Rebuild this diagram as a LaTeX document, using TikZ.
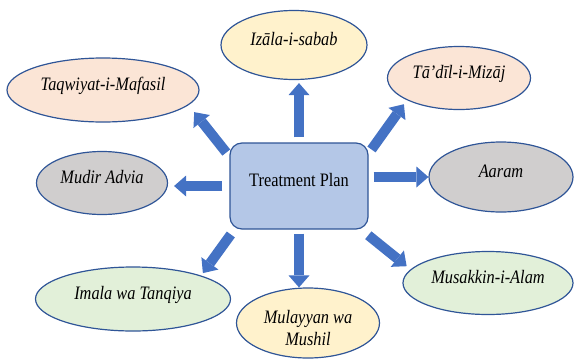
\documentclass[tikz,border=0pt]{standalone}
\usepackage{fontspec}
\setmainfont{Liberation Serif}[FakeStretch=0.86]
\usepackage{tikz}
\usetikzlibrary{positioning}
\usetikzlibrary{arrows.meta,shapes}
\usetikzlibrary{calc}
\definecolor{arrowblue}{HTML}{4472C4}
\definecolor{lineblue}{HTML}{2F5597}
\definecolor{planfill}{HTML}{B4C7E7}
\definecolor{peach}{HTML}{FBE5D6}
\definecolor{cream}{HTML}{FFF2CC}
\definecolor{greyfill}{HTML}{D0CECE}
\definecolor{mint}{HTML}{E2F0D9}
\tikzstyle{plan}=[rectangle,rounded corners=12pt,draw=lineblue,line width=1.2pt,fill=planfill,minimum width=138pt,minimum height=86pt,inner sep=0pt,font=\fontsize{19}{22}\selectfont,text height=13pt,text depth=12pt]
\tikzstyle{topic}=[ellipse,draw=lineblue,line width=1.2pt,inner sep=0pt,font=\fontsize{19}{22}\selectfont\itshape,text height=13pt,text depth=12pt]
\tikzstyle{bigarrow}=[draw=arrowblue,line width=10pt,-{Triangle[width=21pt,length=12pt,line width=0pt]}]

\begin{document}
\begin{tikzpicture}[x=1pt,y=-1pt]
    \useasboundingbox (0,0) rectangle (574,362);

    % First the central box
    \node[plan] (plan) at (299,186) {Treatment Plan};

    % Then the ellipses round it
    \foreach \pos/\name/\ew/\eh/\col/\label in {{(294,45)/izala/146/69/cream/Izāla-i-sabab}, {(103,90)/taqwiyat/192/64/peach/Taqwiyat-i-Mafasil}, {(459,78)/tadil/143/63/peach/Tā'dīl-i-Mizāj}, {(102,183)/mudir/131/63/greyfill/Mudir Advia}, {(501,177)/aaram/144/70/greyfill/Aaram}, {(133,299)/imala/195/64/mint/Imala wa Tanqiya}, {(488,283)/musakkin/170/63/mint/Musakkin-i-Alam}}
        \node[topic, fill=\col, minimum width=\ew pt, minimum height=\eh pt] (\name) at \pos {\label};

    \node[topic, fill=cream, minimum width=143pt, minimum height=70pt, align=center, text height=44pt, text depth=0pt] (mulayyan) at (308,323) {Mulayyan wa\\Mushil};

    % Connect the box with the ellipses
    \foreach \source/\dest/\sa/\sb in {plan.north/plan.north |- izala.south/5/3, plan.south/plan.south |- mulayyan.north/4/0, plan.west/plan.west -| mudir.east/7/6, plan.east |- aaram.west/aaram.west/5/0, plan.157/taqwiyat.-10/5/9, plan.25/tadil.203/5/5, plan.214/imala.19/6/3, plan.-35/musakkin.170/9/5}
        \path[bigarrow, shorten <=\sa pt, shorten >=\sb pt] (\source) -- (\dest);

\end{tikzpicture}
\end{document}
